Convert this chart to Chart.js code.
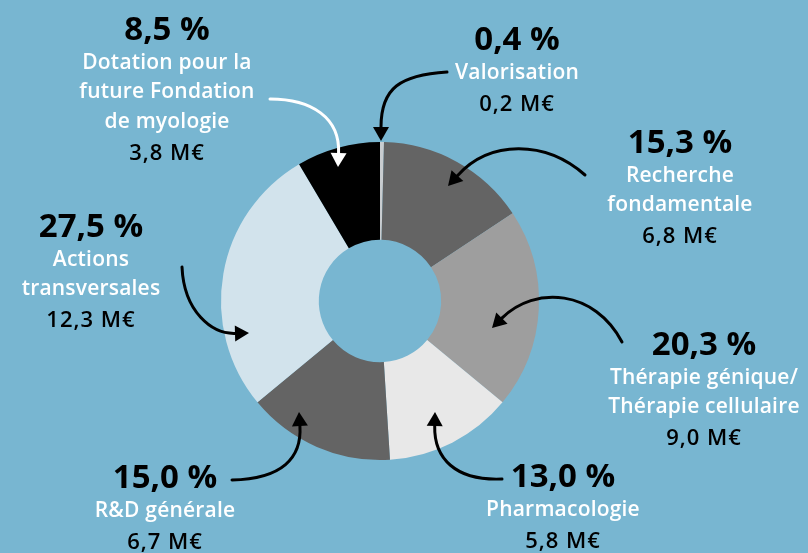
<!DOCTYPE html>
<html lang="fr">
<head>
<meta charset="utf-8">
<title>Répartition des dépenses</title>
<script src="https://cdn.jsdelivr.net/npm/chart.js@4.4.1/dist/chart.umd.min.js"></script>
<style>
    html, body {
        margin: 0;
        padding: 0;
        background: #78b6d1;
        width: 808px;
        height: 553px;
        overflow: hidden;
        font-family: "Open Sans", "Noto Sans", sans-serif;
    }
    #wrap {
        position: relative;
        width: 808px;
        height: 553px;
    }
    #budgetChart {
        position: absolute;
        left: 0;
        top: 0;
    }
    .line {
        position: absolute;
        white-space: nowrap;
        transform: translateX(-50%);
        line-height: 1;
    }
    .pct { font-size: 33px; font-weight: 700; color: #000; }
    .name { font-size: 21px; font-weight: 600; color: #fff; letter-spacing: 0.2px; }
    .amount { font-size: 22px; font-weight: 600; color: #000; letter-spacing: 1px; }
</style>
</head>
<body>
<div id="wrap">
    <canvas id="budgetChart" width="808" height="553"></canvas>
</div>
<script>
// Data (clockwise from the top)
const categories = [
    "Valorisation",
    "Recherche fondamentale",
    "Thérapie génique/ Thérapie cellulaire",
    "Pharmacologie",
    "R&D générale",
    "Actions transversales",
    "Dotation pour la future Fondation de myologie"
];
const nameLines = [
    ["Valorisation"],
    ["Recherche", "fondamentale"],
    ["Thérapie génique/", "Thérapie cellulaire"],
    ["Pharmacologie"],
    ["R&D générale"],
    ["Actions", "transversales"],
    ["Dotation pour la", "future Fondation", "de myologie"]
];
const shares = [0.4, 15.3, 20.3, 13.0, 15.0, 27.5, 8.5];   // %
const amounts = [0.2, 6.8, 9.0, 5.8, 6.7, 12.3, 3.8];      // M€

const sliceColors = ["#c9cdd0", "#646464", "#9e9e9e", "#e8e8e8", "#646464", "#d2e3ec", "#000000"];

// Where each label block sits (center x, baseline of the percent line)
const labelPos = [
    { x: 517, y: 50 },
    { x: 680, y: 153 },
    { x: 704, y: 355 },
    { x: 563, y: 487 },
    { x: 165, y: 488 },
    { x: 91, y: 237 },
    { x: 167, y: 40 }
];

// Curved arrows from label to slice
const arrows = [
    { from: [447, 72], c1: [400, 75], c2: [381, 88], tip: [381, 141], color: "#000" },
    { from: [585, 175], c1: [545, 140], c2: [490, 140], tip: [448, 186], color: "#000" },
    { from: [622, 342], c1: [595, 290], c2: [535, 285], tip: [492, 328], color: "#000" },
    { from: [502, 479], c1: [455, 481], c2: [434, 458], tip: [435, 412], color: "#000" },
    { from: [232, 480], c1: [282, 479], c2: [302, 458], tip: [299, 412], color: "#000" },
    { from: [182, 267], c1: [184, 312], c2: [212, 334], tip: [249, 333], color: "#000" },
    { from: [270, 99], c1: [312, 99], c2: [340, 118], tip: [338, 167], color: "#fff" }
];

function fmt(v) {
    return v.toFixed(1).replace(".", ",");
}

// Put the label texts on the page as real text
function addLabels() {
    const wrap = document.getElementById("wrap");
    const ascent = 0.888; // baseline offset for line-height 1

    function addLine(text, cls, x, baseline, size) {
        const el = document.createElement("div");
        el.className = "line " + cls;
        el.textContent = text;
        el.style.left = x + "px";
        el.style.top = (baseline - size * ascent) + "px";
        wrap.appendChild(el);
    }

    categories.forEach((cat, i) => {
        const pos = labelPos[i];
        let y = pos.y;
        addLine(fmt(shares[i]) + " %", "pct", pos.x, y, 33);
        nameLines[i].forEach((line) => {
            y += 29.5;
            addLine(line, "name", pos.x, y, 21);
        });
        y += 31;
        addLine(fmt(amounts[i]) + " M€", "amount", pos.x, y, 22);
    });
}

const arrowPlugin = {
    id: "arrows",
    afterDraw(chart) {
        const ctx = chart.ctx;
        const headLen = 14;
        const headHalf = 8;
        ctx.save();
        arrows.forEach((a) => {
            let dx = a.tip[0] - a.c2[0];
            let dy = a.tip[1] - a.c2[1];
            const len = Math.hypot(dx, dy);
            dx /= len;
            dy /= len;
            const bx = a.tip[0] - dx * headLen;
            const by = a.tip[1] - dy * headLen;

            ctx.strokeStyle = a.color;
            ctx.fillStyle = a.color;
            ctx.lineWidth = 3;
            ctx.lineCap = "round";
            ctx.beginPath();
            ctx.moveTo(a.from[0], a.from[1]);
            ctx.bezierCurveTo(a.c1[0], a.c1[1], a.c2[0], a.c2[1], bx, by);
            ctx.stroke();

            ctx.beginPath();
            ctx.moveTo(a.tip[0], a.tip[1]);
            ctx.lineTo(bx - dy * headHalf, by + dx * headHalf);
            ctx.lineTo(bx + dy * headHalf, by - dx * headHalf);
            ctx.closePath();
            ctx.fill();
        });
        ctx.restore();
    }
};

const ctx = document.getElementById("budgetChart").getContext("2d");
new Chart(ctx, {
    type: "doughnut",
    data: {
        labels: categories,
        datasets: [
            {
                data: shares,
                backgroundColor: sliceColors,
                borderWidth: 0,
            },
        ],
    },
    options: {
        responsive: false,
        animation: false,
        events: [],
        cutout: "38.5%",
        layout: {
            padding: { left: 221, right: 269, top: 142, bottom: 93 },
        },
        plugins: {
            legend: { display: false },
            tooltip: { enabled: false },
        },
    },
    plugins: [arrowPlugin],
});

addLabels();
</script>
</body>
</html>
